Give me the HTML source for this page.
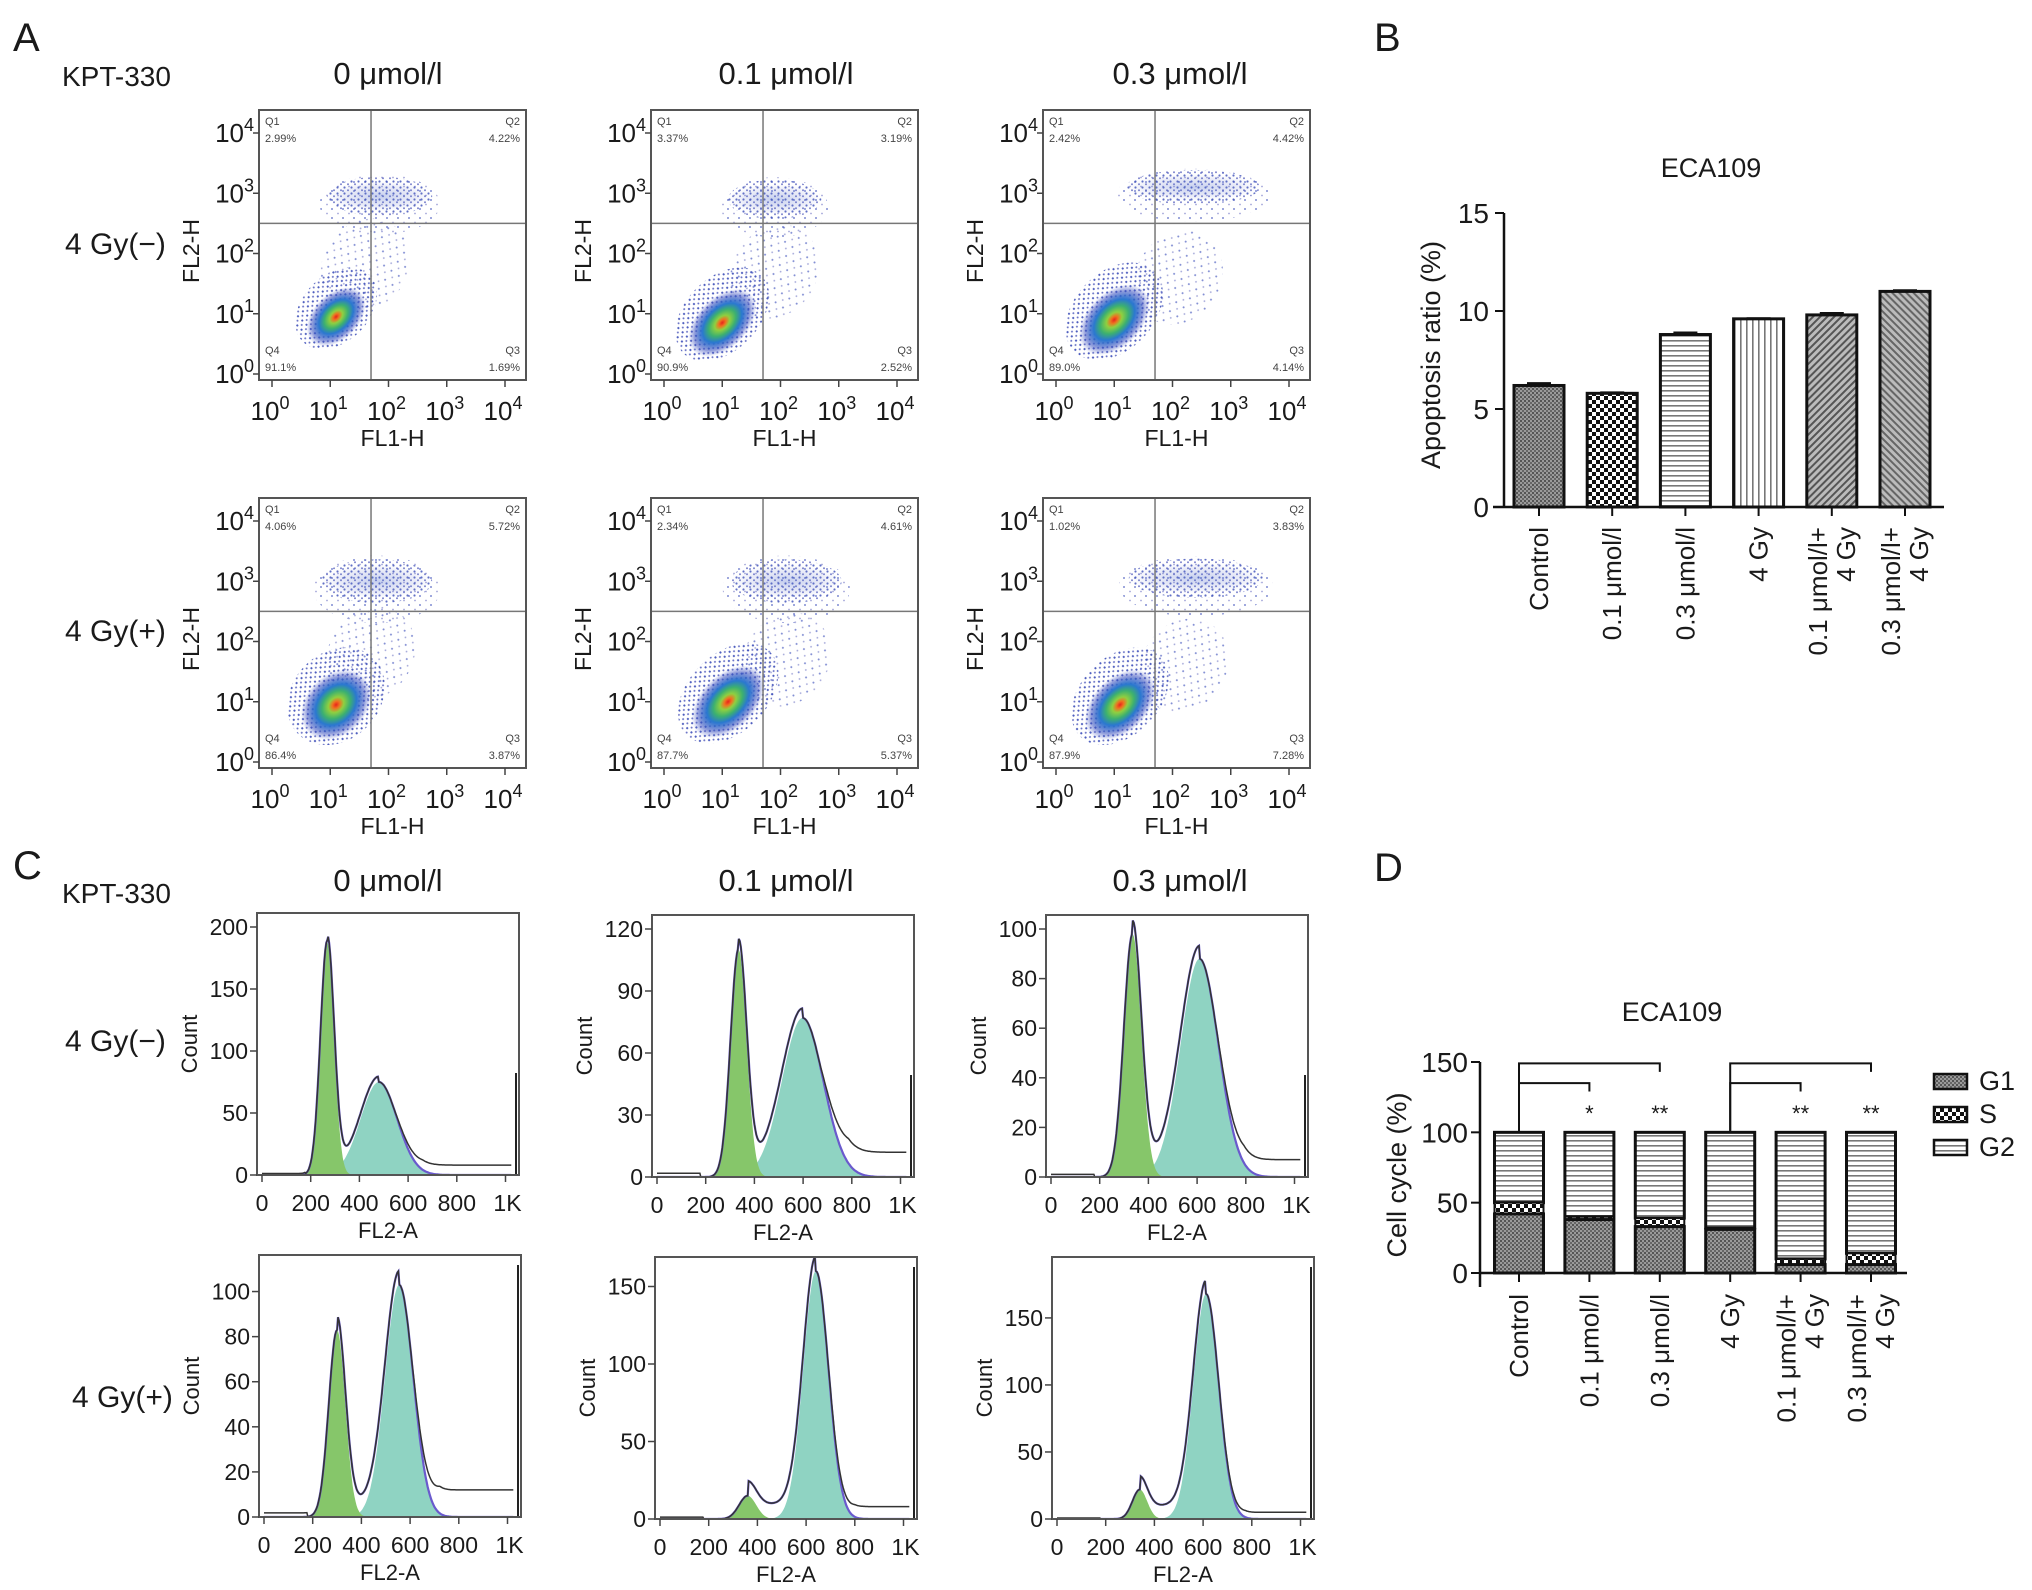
<!DOCTYPE html>
<html><head><meta charset="utf-8">
<style>
html,body{margin:0;padding:0;background:#fff;}
svg{display:block;font-family:"Liberation Sans",sans-serif;}
</style></head>
<body>
<svg id="fig" xmlns="http://www.w3.org/2000/svg" width="2032" height="1590" viewBox="0 0 2032 1590">
<defs>
  <pattern id="pCtrl" width="4" height="4" patternUnits="userSpaceOnUse"><rect width="4" height="4" fill="#9a9a9a"/><rect width="2" height="2" fill="#555"/><rect x="2" y="2" width="2" height="2" fill="#666"/></pattern>
  <pattern id="pChk" width="8" height="8" patternUnits="userSpaceOnUse"><rect width="8" height="8" fill="#fff"/><rect width="4" height="4" fill="#111"/><rect x="4" y="4" width="4" height="4" fill="#111"/></pattern>
  <pattern id="pHor" width="6" height="5" patternUnits="userSpaceOnUse"><rect width="6" height="5" fill="#fff"/><rect y="0" width="6" height="1.6" fill="#777"/></pattern>
  <pattern id="pVer" width="6" height="6" patternUnits="userSpaceOnUse"><rect width="6" height="6" fill="#fff"/><rect width="1.6" height="6" fill="#777"/></pattern>
  <pattern id="pD1" width="5" height="5" patternUnits="userSpaceOnUse" patternTransform="rotate(45)"><rect width="5" height="5" fill="#bbb"/><rect width="2" height="5" fill="#555"/></pattern>
  <pattern id="pD2" width="5" height="5" patternUnits="userSpaceOnUse" patternTransform="rotate(-45)"><rect width="5" height="5" fill="#bbb"/><rect width="2" height="5" fill="#666"/></pattern>
  <pattern id="pDots" width="7" height="6" patternUnits="userSpaceOnUse"><rect width="7" height="6" fill="none"/><circle cx="1.5" cy="1.5" r="1.1" fill="#3a4cb8"/><circle cx="5" cy="4.3" r="1" fill="#5a64c0"/></pattern>
  <pattern id="pDotsS" width="11" height="9" patternUnits="userSpaceOnUse"><rect width="11" height="9" fill="none"/><circle cx="2" cy="2" r="1" fill="#4a5cc0"/><circle cx="8" cy="6.5" r="0.9" fill="#7a80c8"/></pattern>
  <radialGradient id="gMain"><stop offset="0" stop-color="#e8241c"/><stop offset="0.1" stop-color="#f07020"/><stop offset="0.22" stop-color="#8fd040"/><stop offset="0.4" stop-color="#3cb070"/><stop offset="0.58" stop-color="#2a78d0"/><stop offset="0.82" stop-color="#3a50c0" stop-opacity="0.55"/><stop offset="1" stop-color="#6070d0" stop-opacity="0"/></radialGradient>
  <radialGradient id="gUp"><stop offset="0" stop-color="#4060c8" stop-opacity="0.6"/><stop offset="0.7" stop-color="#6070c8" stop-opacity="0.25"/><stop offset="1" stop-color="#8090d0" stop-opacity="0"/></radialGradient>
</defs>
<g id="root"></g>
</svg>
<script>
// ---------- Panel B data ----------
const bCategories = ["Control", "0.1 μmol/l", "0.3 μmol/l", "4 Gy", "0.1 μmol/l+|4 Gy", "0.3 μmol/l+|4 Gy"];
const bValues = [6.2, 5.8, 8.8, 9.6, 9.8, 11.0];
const bErrors = [0.12, 0.05, 0.1, 0.03, 0.1, 0.06];
const bTicks = [0, 5, 10, 15];
// ---------- Panel D data ----------
const dCategories = ["Control", "0.1 μmol/l", "0.3 μmol/l", "4 Gy", "0.1 μmol/l+|4 Gy", "0.3 μmol/l+|4 Gy"];
const dG1 = [42, 38, 33, 31, 6, 6];
const dS = [8, 2, 6, 1, 4, 8];
const dTicks = [0, 50, 100, 150];
const dStars = ["", "*", "**", "", "**", "**"];
// ---------- Panel A data ----------
const aQuadQ1 = ["2.99%", "3.37%", "2.42%", "4.06%", "2.34%", "1.02%"];
const aQuadQ2 = ["4.22%", "3.19%", "4.42%", "5.72%", "4.61%", "3.83%"];
const aQuadQ3 = ["1.69%", "2.52%", "4.14%", "3.87%", "5.37%", "7.28%"];
const aQuadQ4 = ["91.1%", "90.9%", "89.0%", "86.4%", "87.7%", "87.9%"];
const aMainX = [1.1, 1.0, 1.0, 1.1, 1.1, 1.1];
const aMainY = [0.95, 0.85, 0.9, 0.95, 1.0, 0.95];
const aMainRx = [0.6, 0.7, 0.72, 0.68, 0.75, 0.72];
const aMainRy = [0.38, 0.42, 0.45, 0.5, 0.45, 0.45];
const aUpX = [1.85, 1.9, 2.35, 1.8, 2.1, 2.4];
const aUpY = [2.95, 2.9, 3.1, 3.0, 3.0, 3.05];
const aUpRx = [0.9, 0.8, 1.15, 0.95, 0.95, 1.15];
const aUpRy = [0.25, 0.25, 0.22, 0.28, 0.28, 0.25];
const aMidX = [1.6, 1.9, 2.1, 1.7, 2.1, 2.2];
const aMidY = [1.8, 1.7, 1.6, 1.8, 1.7, 1.6];
const aLogTicks = [0, 1, 2, 3, 4];
// ---------- Panel C data ----------
const cYMax = [200, 120, 100, 110, 160, 185];
const cYTicks = [[0,50,100,150,200],[0,30,60,90,120],[0,20,40,60,80,100],[0,20,40,60,80,100],[0,50,100,150],[0,50,100,150]];
const cG1Peak = [268, 335, 335, 300, 360, 340];
const cG1Height = [188, 110, 98, 83, 15, 22];
const cG1Sd = [28, 33, 36, 34, 35, 30];
const cG2Peak = [480, 598, 610, 555, 640, 612];
const cG2Height = [75, 77, 88, 103, 160, 168];
const cG2Sd = [75, 85, 78, 58, 52, 52];
const cTail = [8, 12, 7, 12, 8, 5];
const cXTicks = [0, 200, 400, 600, 800, 1000];
const cXTickLabels = ["0", "200", "400", "600", "800", "1K"];

const NS = "http://www.w3.org/2000/svg";
const root = document.getElementById("root");
function mk(tag, attrs, parent) {
  const e = document.createElementNS(NS, tag);
  for (const k in attrs) e.setAttribute(k, attrs[k]);
  (parent || root).appendChild(e);
  return e;
}
function txt(s, x, y, size, anchor, parent, extra) {
  const e = mk("text", Object.assign({x: x, y: y, "font-size": size, "text-anchor": anchor || "start", fill: "#1a1a1a"}, extra || {}), parent);
  e.textContent = s;
  return e;
}

// ======== Global labels ========
let t;
t = txt("A", 13, 51, 40);  
t = txt("B", 1374, 51, 40);  
t = txt("C", 13, 879, 40);  
t = txt("D", 1374, 881, 40);  
t = txt("KPT-330", 62, 86, 28);  
t = txt("KPT-330", 62, 903, 28);  
const colTitles = ["0 μmol/l", "0.1 μmol/l", "0.3 μmol/l"];
const colCenters = [388, 786, 1180];
for (let i = 0; i < 3; i++) {
  t = txt(colTitles[i], colCenters[i], 84, 31, "middle");  
  t = txt(colTitles[i], colCenters[i], 891, 31, "middle");  
}
t = txt("4 Gy(−)", 65, 254, 30);  
t = txt("4 Gy(+)", 65, 641, 30);  
t = txt("4 Gy(−)", 65, 1051, 30);  
t = txt("4 Gy(+)", 72, 1407, 30);  

// ======== Panel A scatter plots ========
const colOff = [0, 392, 784];
for (let p = 0; p < 6; p++) {
  const r = Math.floor(p / 3), c = p % 3;
  const bx = 259 + colOff[c], by = 110 + r * 388, bw = 267, bh = 270;
  const g = mk("g", {});
  
  
  const lx = l => bx + 13 + l * 58.25;
  const ly = l => by + 264 - l * 60.25;
  const cid = "clipA" + p;
  const cp = mk("clipPath", {id: cid}, g);
  mk("rect", {x: bx, y: by, width: bw, height: bh}, cp);
  const cg = mk("g", {"clip-path": "url(#" + cid + ")"}, g);
  // mid diffuse population
  const mid = mk("ellipse", {cx: lx(aMidX[p]), cy: ly(aMidY[p]), rx: 0.85 * 58, ry: 0.7 * 60, fill: "url(#pDotsS)", opacity: 0.7, transform: "rotate(-55 " + lx(aMidX[p]) + " " + ly(aMidY[p]) + ")"}, cg);
  
  
  // upper population
  const up0 = mk("ellipse", {cx: lx(aUpX[p]), cy: ly(aUpY[p]) + 8, rx: aUpRx[p] * 58.25 * 1.15, ry: aUpRy[p] * 60.25 * 2.0, fill: "url(#pDotsS)", opacity: 0.7}, cg);
  
  
  const up1 = mk("ellipse", {cx: lx(aUpX[p]), cy: ly(aUpY[p]), rx: aUpRx[p] * 58.25, ry: aUpRy[p] * 60.25 * 1.3, fill: "url(#pDots)", opacity: 0.8}, cg);
  
  
  const up2 = mk("ellipse", {cx: lx(aUpX[p]), cy: ly(aUpY[p]), rx: aUpRx[p] * 58.25, ry: aUpRy[p] * 60.25, fill: "url(#gUp)", opacity: 0.5}, cg);
  
  
  // main population
  const mx = lx(aMainX[p]), my = ly(aMainY[p]);
  const halo = mk("ellipse", {cx: mx + 6, cy: my - 6, rx: aMainRx[p] * 58.25 * 1.35, ry: aMainRy[p] * 60.25 * 1.45, fill: "url(#pDots)", opacity: 0.9, transform: "rotate(-45 " + mx + " " + my + ")"}, cg);
  
  
  const main = mk("ellipse", {cx: mx, cy: my, rx: aMainRx[p] * 58.25, ry: aMainRy[p] * 60.25, fill: "url(#gMain)", transform: "rotate(-45 " + mx + " " + my + ")"}, cg);
  
  
  // quadrant lines
  const qv = mk("line", {x1: lx(1.7), x2: lx(1.7), y1: by, y2: by + bh, stroke: "#777", "stroke-width": 1.5}, g);
  
  
  const qh = mk("line", {x1: bx, x2: bx + bw, y1: ly(2.5), y2: ly(2.5), stroke: "#777", "stroke-width": 1.5}, g);
  
  
  const box = mk("rect", {x: bx, y: by, width: bw, height: bh, fill: "none", stroke: "#555", "stroke-width": 2}, g);
  
  
  // quadrant labels
  const qs = [["Q1", aQuadQ1[p], bx + 6, by + 15, "start"], ["Q2", aQuadQ2[p], bx + bw - 6, by + 15, "end"], ["Q4", aQuadQ4[p], bx + 6, by + bh - 26, "start"], ["Q3", aQuadQ3[p], bx + bw - 6, by + bh - 26, "end"]];
  for (const q of qs) {
    const a = txt(q[0], q[2], q[3], 11, q[4], g, {fill: "#444"});
    
    
    const b = txt(q[1], q[2], q[3] + 17, 11, q[4], g, {fill: "#444"});
    
    
  }
  // ticks & labels
  for (const l of aLogTicks) {
    const yl = mk("text", {x: bx - 5, y: ly(l) + 9, "font-size": 26, "text-anchor": "end", fill: "#1a1a1a"}, g);
    
    
    yl.innerHTML = '10<tspan dy="-11" font-size="18">' + l + '</tspan>';
    const xl = mk("text", {x: lx(l) - 2, y: by + bh + 40, "font-size": 26, "text-anchor": "middle", fill: "#1a1a1a"}, g);
    
    
    xl.innerHTML = '10<tspan dy="-11" font-size="18">' + l + '</tspan>';
    const tk = mk("line", {x1: lx(l), x2: lx(l), y1: by + bh, y2: by + bh + 7, stroke: "#444", "stroke-width": 1.5}, g);
    
    
    const tky = mk("line", {x1: bx - 6, x2: bx, y1: ly(l), y2: ly(l), stroke: "#444", "stroke-width": 1.5}, g);
    
    
  }
  const xt = txt("FL1-H", bx + bw / 2, by + bh + 66, 23, "middle", g);
  
  
  const yt = txt("FL2-H", 0, 0, 23, "middle", g, {transform: "translate(" + (bx - 60) + "," + (by + 141) + ") rotate(-90)"});
  
  
}

// ======== Panel C histograms ========
const cBoxX = [257, 652, 1046, 259, 655, 1052];
const cBoxY = [913, 915, 915, 1255, 1257, 1257];
function gauss(v, m, s, h) { return h * Math.exp(-0.5 * ((v - m) / s) ** 2); }
for (let p = 0; p < 6; p++) {
  const bx = cBoxX[p], by = cBoxY[p], bw = 262, bh = 262;
  const g = mk("g", {});
  
  
  const xs = v => bx + 5 + v * 0.2435;
  const ys = v => by + bh - v * (bh - 14) / cYMax[p];
  const cid = "clipC" + p;
  const cp = mk("clipPath", {id: cid}, g);
  mk("rect", {x: bx, y: by, width: bw, height: bh}, cp);
  const cg = mk("g", {"clip-path": "url(#" + cid + ")"}, g);
  let g1p = "M" + xs(0) + "," + ys(0), g2p = g1p, fit = "", raw = "";
  for (let v = 0; v <= 1024; v += 4) {
    const a = gauss(v, cG1Peak[p], cG1Sd[p], cG1Height[p]);
    const b = gauss(v, cG2Peak[p], cG2Sd[p], cG2Height[p]);
    const sPh = (v > cG1Peak[p] && v < cG2Peak[p]) ? cG2Height[p] * 0.06 : 0;
    const tail = v > cG2Peak[p] + 0.8 * cG2Sd[p] ? cTail[p] * Math.min(1, (v - cG2Peak[p] - 0.8 * cG2Sd[p]) / 120) : 0;
    const base = v < 180 ? cTail[p] * 0.15 : 0;
    g1p += " L" + xs(v).toFixed(1) + "," + ys(a).toFixed(1);
    g2p += " L" + xs(v).toFixed(1) + "," + ys(b).toFixed(1);
    fit += (v === 0 ? "M" : " L") + xs(v).toFixed(1) + "," + ys(a + b + sPh).toFixed(1);
    raw += (v === 0 ? "M" : " L") + xs(v).toFixed(1) + "," + ys(a + b + sPh + base + tail).toFixed(1);
  }
  g1p += " L" + xs(1024) + "," + ys(0) + " Z";
  g2p += " L" + xs(1024) + "," + ys(0) + " Z";
  const f2 = mk("path", {d: g2p, fill: "#8fd3c2"}, cg);
  
  
  const f1 = mk("path", {d: g1p, fill: "#86c66a"}, cg);
  
  
  const fl = mk("path", {d: fit, fill: "none", stroke: "#6a5acd", "stroke-width": 2.2}, cg);
  
  
  const rl = mk("path", {d: raw, fill: "none", stroke: "#333", "stroke-width": 1.5}, cg);
  
  
  const sp = mk("line", {x1: bx + bw - 3, x2: bx + bw - 3, y1: ys(0), y2: by + 10 + (p < 3 ? 150 : 0), stroke: "#222", "stroke-width": 2}, cg);
  
  
  const box = mk("rect", {x: bx, y: by, width: bw, height: bh, fill: "none", stroke: "#555", "stroke-width": 2}, g);
  
  
  for (const v of cYTicks[p]) {
    const tk = mk("line", {x1: bx - 7, x2: bx, y1: ys(v), y2: ys(v), stroke: "#444", "stroke-width": 1.5}, g);
    
    
    const l = txt(String(v), bx - 9, ys(v) + 8, 23, "end", g);
    
    
  }
  for (let i = 0; i < cXTicks.length; i++) {
    const v = cXTicks[i];
    const tk = mk("line", {x1: xs(v), x2: xs(v), y1: by + bh, y2: by + bh + 7, stroke: "#444", "stroke-width": 1.5}, g);
    
    
    const l = txt(cXTickLabels[i], xs(v) + (i === 5 ? 2 : 0), by + bh + 36, 23, "middle", g);
    
    
  }
  const xt = txt("FL2-A", bx + bw / 2, by + bh + 63, 22, "middle", g);
  
  
  const yt = txt("Count", 0, 0, 22, "middle", g, {transform: "translate(" + (bx - 60) + "," + (by + bh / 2) + ") rotate(-90)"});
  
  
}

// ======== Panel B bar chart ========
const bPatterns = ["url(#pCtrl)", "url(#pChk)", "url(#pHor)", "url(#pVer)", "url(#pD1)", "url(#pD2)"];
{
  const g = mk("g", {});
  
  
  const x0 = 1539, step = 73.2, bwid = 50;
  const ys = v => 507 - v * (507 - 213) / 15;
  const tt = txt("ECA109", 1711, 177, 27, "middle", g);
  
  
  for (let i = 0; i < bValues.length; i++) {
    const cx = x0 + i * step;
    const bar = mk("rect", {x: cx - bwid / 2, y: ys(bValues[i]), width: bwid, height: ys(0) - ys(bValues[i]), fill: bPatterns[i], stroke: "#111", "stroke-width": 3}, g);
    
    
    const eb = mk("line", {x1: cx - 12, x2: cx + 12, y1: ys(bValues[i] + bErrors[i]), y2: ys(bValues[i] + bErrors[i]), stroke: "#111", "stroke-width": 2}, g);
    
    
    const tk = mk("line", {x1: cx, x2: cx, y1: ys(0), y2: ys(0) + 9, stroke: "#111", "stroke-width": 2}, g);
    
    
    const parts = bCategories[i].split("|");
    for (let j = 0; j < parts.length; j++) {
      const off = parts.length === 2 ? (j === 0 ? -14 : 14) : 0;
      const l = txt(parts[j], 0, 0, 26, "end", g, {transform: "translate(" + (cx + 9 + off) + "," + 527 + ") rotate(-90)"});
      
      
    }
  }
  const ya = mk("line", {x1: 1504, x2: 1504, y1: ys(15), y2: ys(0), stroke: "#111", "stroke-width": 2.5}, g);
  
  
  const xa = mk("line", {x1: 1493, x2: 1944, y1: ys(0), y2: ys(0), stroke: "#111", "stroke-width": 2.5}, g);
  
  
  for (const v of bTicks) {
    const tk = mk("line", {x1: 1495, x2: 1504, y1: ys(v), y2: ys(v), stroke: "#111", "stroke-width": 2}, g);
    
    
    const l = txt(String(v), 1489, ys(v) + 10, 28, "end", g);
    
    
  }
  const yt = txt("Apoptosis ratio (%)", 0, 0, 27, "middle", g, {transform: "translate(1440,355) rotate(-90)"});
  
  
}

// ======== Panel D stacked bar chart ========
{
  const g = mk("g", {});
  
  
  const x0 = 1519, step = 70.4, bwid = 49;
  const ys = v => 1273 - v * (1273 - 1062) / 150;
  const tt = txt("ECA109", 1672, 1021, 27, "middle", g);
  
  
  for (let i = 0; i < dG1.length; i++) {
    const cx = x0 + i * step, L = cx - bwid / 2;
    const g2 = mk("rect", {x: L, y: ys(100), width: bwid, height: ys(dG1[i] + dS[i]) - ys(100), fill: "url(#pHor)", stroke: "#111", "stroke-width": 3}, g);
    
    
    const s = mk("rect", {x: L, y: ys(dG1[i] + dS[i]), width: bwid, height: ys(dG1[i]) - ys(dG1[i] + dS[i]), fill: "url(#pChk)", stroke: "#111", "stroke-width": 2}, g);
    
    
    const g1 = mk("rect", {x: L, y: ys(dG1[i]), width: bwid, height: ys(0) - ys(dG1[i]), fill: "url(#pCtrl)", stroke: "#111", "stroke-width": 3}, g);
    
    
    const tk = mk("line", {x1: cx, x2: cx, y1: ys(0), y2: ys(0) + 9, stroke: "#111", "stroke-width": 2}, g);
    
    
    if (dStars[i]) {
      const st = txt(dStars[i], cx, ys(108), 22, "middle", g);
      
      
    }
    const parts = dCategories[i].split("|");
    for (let j = 0; j < parts.length; j++) {
      const off = parts.length === 2 ? (j === 0 ? -14 : 14) : 0;
      const l = txt(parts[j], 0, 0, 26, "end", g, {transform: "translate(" + (cx + 9 + off) + "," + 1294 + ") rotate(-90)"});
      
      
    }
  }
  // brackets
  const brk = [[0, 1, 135], [0, 2, 149], [3, 4, 135], [3, 5, 149]];
  for (const b of brk) {
    const xa = x0 + b[0] * step, xb = x0 + b[1] * step;
    const pth = mk("path", {d: "M" + xa + "," + ys(101) + " L" + xa + "," + ys(b[2]) + " L" + xb + "," + ys(b[2]) + " L" + xb + "," + ys(b[2] - 6), fill: "none", stroke: "#111", "stroke-width": 2}, g);
    
    
  }
  const ya = mk("line", {x1: 1480, x2: 1480, y1: ys(150), y2: ys(0) + 14, stroke: "#111", "stroke-width": 2.5}, g);
  
  
  const xa = mk("line", {x1: 1480, x2: 1907, y1: ys(0), y2: ys(0), stroke: "#111", "stroke-width": 2.5}, g);
  
  
  for (const v of dTicks) {
    const tk = mk("line", {x1: 1471, x2: 1480, y1: ys(v), y2: ys(v), stroke: "#111", "stroke-width": 2}, g);
    
    
    const l = txt(String(v), 1468, ys(v) + 10, 28, "end", g);
    
    
  }
  const yt = txt("Cell cycle (%)", 0, 0, 27, "middle", g, {transform: "translate(1406,1175) rotate(-90)"});
  
  
  const legNames = ["G1", "S", "G2"];
  const legFills = ["url(#pCtrl)", "url(#pChk)", "url(#pHor)"];
  for (let i = 0; i < 3; i++) {
    const y = 1074 + i * 33;
    const sw = mk("rect", {x: 1934, y: y, width: 33, height: 15, fill: legFills[i], stroke: "#111", "stroke-width": 2.5}, g);
    
    
    const l = txt(legNames[i], 1979, y + 16, 27, "start", g);
    
    
  }
}
</script>
</body></html>
